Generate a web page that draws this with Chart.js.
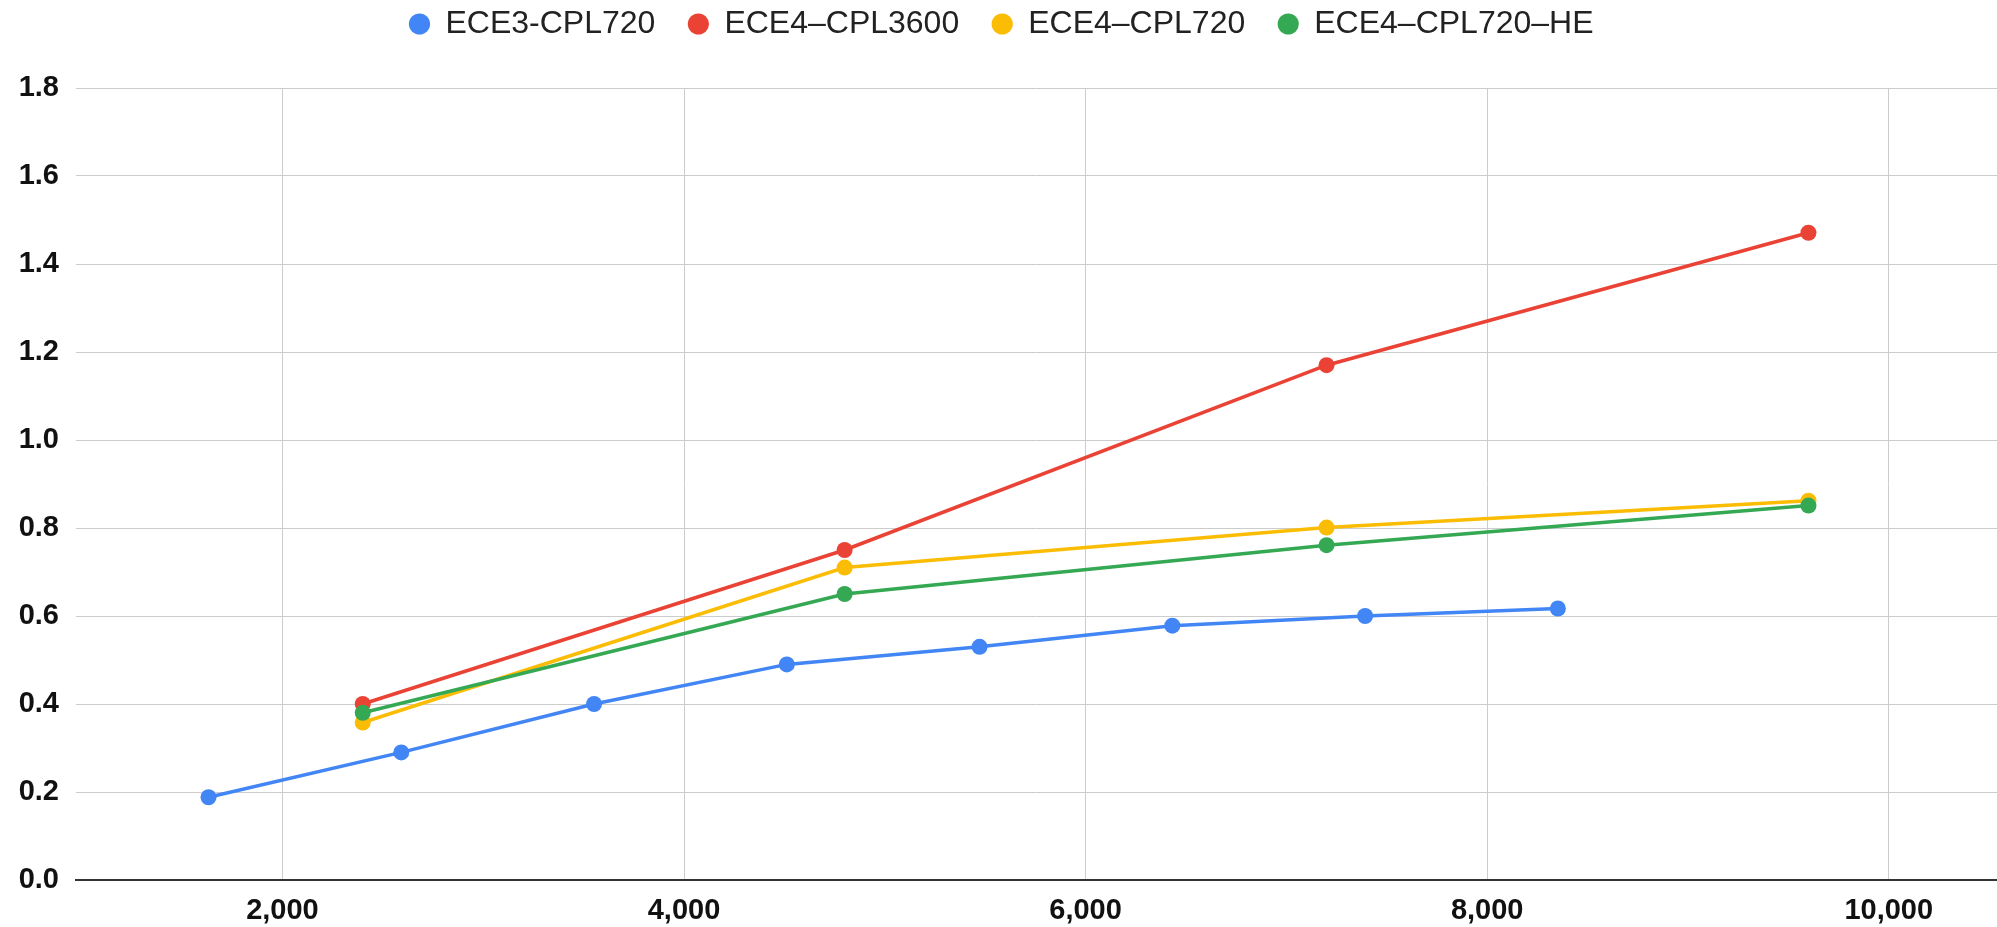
<!DOCTYPE html>
<html>
<head>
<meta charset="utf-8">
<script src="https://cdn.jsdelivr.net/npm/chart.js@4/dist/chart.umd.min.js"></script>
<style>
  html, body { margin: 0; padding: 0; background: #ffffff; }
  #wrap { width: 1997px; height: 927px; position: relative; }
</style>
</head>
<body>
<div id="wrap"><canvas id="c" width="1997" height="927"></canvas></div>
<script>
// ---- data ----
const seriesNames = ['ECE3-CPL720', 'ECE4\u2013CPL3600', 'ECE4\u2013CPL720', 'ECE4\u2013CPL720\u2013HE'];
const ece3X = [1632, 2592, 3552, 4512, 5472, 6432, 7392, 8352];
const ece3Y = [0.188, 0.290, 0.400, 0.490, 0.530, 0.578, 0.600, 0.617];
const ece4X = [2400, 4800, 7200, 9600];
const ece4Cpl3600Y = [0.400, 0.750, 1.170, 1.471];
const ece4Cpl720Y = [0.358, 0.710, 0.801, 0.862];
const ece4Cpl720HeY = [0.380, 0.650, 0.761, 0.851];
const xTicks = [2000, 4000, 6000, 8000, 10000];
const yTicks = [0, 0.2, 0.4, 0.6, 0.8, 1.0, 1.2, 1.4, 1.6, 1.8];
const colors = ['#4285F4', '#EA4335', '#FBBC04', '#34A853'];

function pts(xs, ys) { return xs.map((x, i) => ({ x: x, y: ys[i] })); }

const seriesData = [
  pts(ece3X, ece3Y),
  pts(ece4X, ece4Cpl3600Y),
  pts(ece4X, ece4Cpl720Y),
  pts(ece4X, ece4Cpl720HeY)
];

const datasets = seriesNames.map((name, i) => ({
  label: name,
  data: seriesData[i],
  borderColor: colors[i],
  backgroundColor: colors[i],
  pointBackgroundColor: colors[i],
  pointBorderColor: colors[i],
  pointBorderWidth: 0,
  pointRadius: 8,
  pointHoverRadius: 8,
  borderWidth: 3.5,
  tension: 0,
  order: seriesNames.length - i
}));

const LEGEND_H = 88;
const LEGEND_SHIFT_Y = 25;
const LEGEND_SHIFT_X = 3;

const legendFix = {
  id: 'legendFix',
  afterInit(chart) {
    const lg = chart.legend;
    if (!lg) return;
    const fit = lg.fit;
    lg.fit = function () { fit.call(this); this.height = LEGEND_H; };
    const draw = lg.draw;
    lg.draw = function () {
      const t = this.top, l = this.left, r = this.right;
      this.top = t - LEGEND_SHIFT_Y;
      this.left = l + LEGEND_SHIFT_X;
      this.right = r + LEGEND_SHIFT_X;
      draw.call(this);
      this.top = t; this.left = l; this.right = r;
    };
  }
};

const gridColor = '#cccccc';
const axisColor = '#333333';
const tickFont = { family: '"Liberation Sans", Arial, sans-serif', size: 29, weight: 'bold' };

new Chart(document.getElementById('c'), {
  type: 'line',
  data: { datasets: datasets },
  plugins: [legendFix],
  options: {
    responsive: false,
    animation: false,
    events: [],
    layout: { padding: 0, autoPadding: false },
    plugins: {
      tooltip: { enabled: false },
      legend: {
        display: true,
        position: 'top',
        align: 'center',
        labels: {
          usePointStyle: true,
          pointStyle: 'circle',
          boxWidth: 20,
          boxHeight: 15,
          padding: 33,
          color: '#222222',
          font: { family: '"Liberation Sans", Arial, sans-serif', size: 32, lineHeight: 1 },
          sort: (a, b) => a.datasetIndex - b.datasetIndex
        }
      }
    },
    scales: {
      x: {
        type: 'linear',
        min: 972,
        max: 10539,
        afterBuildTicks: (s) => { s.ticks = xTicks.map(v => ({ value: v })); },
        afterFit: (s) => {
          s.height = 47;
          s.paddingLeft = 0; s.paddingRight = 0; s.paddingTop = 0; s.paddingBottom = 0;
        },
        grid: { color: gridColor, lineWidth: 1, drawTicks: false },
        border: { display: true, color: axisColor, width: 2 },
        ticks: {
          padding: 14,
          maxRotation: 0,
          color: '#111111',
          font: tickFont,
          callback: (v) => Number(v).toLocaleString('en-US')
        }
      },
      y: {
        type: 'linear',
        min: 0,
        max: 1.8,
        afterBuildTicks: (s) => { s.ticks = yTicks.map(v => ({ value: v })); },
        afterFit: (s) => {
          s.width = 76;
          s.paddingTop = 0; s.paddingBottom = 0;
        },
        grid: {
          color: (ctx) => (ctx.tick && ctx.tick.value === 0 ? axisColor : gridColor),
          lineWidth: 1,
          drawTicks: false
        },
        border: { display: false },
        ticks: {
          padding: 17,
          color: '#111111',
          font: tickFont,
          callback: (v) => Number(v).toFixed(1)
        }
      }
    }
  }
});
</script>
</body>
</html>
